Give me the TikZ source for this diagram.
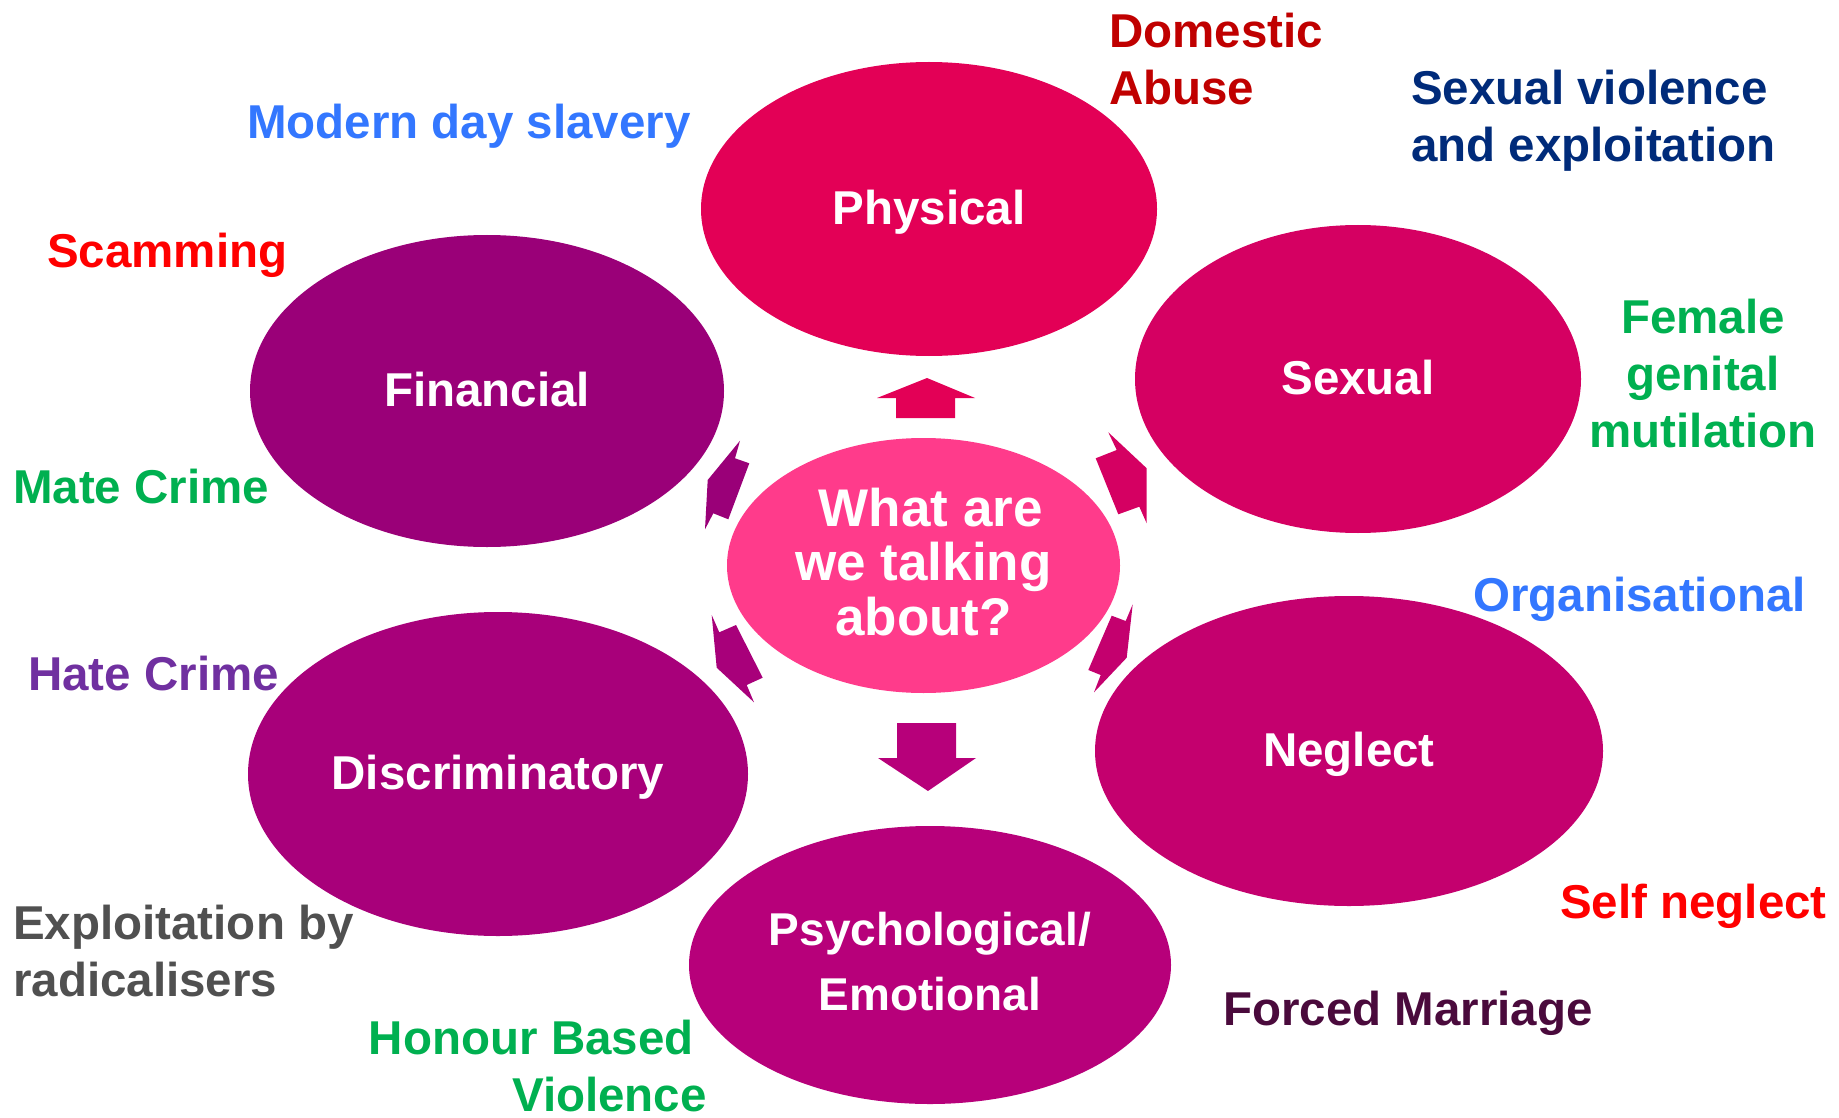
\documentclass[tikz,border=0pt]{standalone}
\usepackage{fontspec}
\setmainfont{Liberation Sans}
\usetikzlibrary{shapes.geometric}
\definecolor{cphys}{HTML}{E30056}
\definecolor{csex}{HTML}{D50062}
\definecolor{cfin}{HTML}{9A0078}
\definecolor{ccen}{HTML}{FF3B8B}
\definecolor{cdis}{HTML}{A8007A}
\definecolor{cneg}{HTML}{C4006E}
\definecolor{cpsy}{HTML}{B7007A}
\definecolor{tdred}{HTML}{C00000}
\definecolor{tnavy}{HTML}{002B7A}
\definecolor{tblue}{HTML}{3377FF}
\definecolor{tred}{HTML}{FF0000}
\definecolor{tgreen}{HTML}{00B050}
\definecolor{tpurple}{HTML}{7030A0}
\definecolor{tgray}{HTML}{505050}
\definecolor{tplum}{HTML}{4A0A3C}
\begin{document}
\begin{tikzpicture}[x=1pt,y=-1pt,
  blob/.style={ellipse, inner sep=0pt, text=white, align=center,
    font=\fontsize{47.5}{57}\selectfont\bfseries},
  lbl/.style={inner sep=0pt, font=\fontsize{47.5}{57}\selectfont\bfseries}]
\useasboundingbox (0,0) rectangle (1839,1118);
% ellipses
\node[blob, fill=cphys, minimum width=456, minimum height=294] (phys) at (929,209) {};
\node[blob, fill=csex, minimum width=446, minimum height=308] (sex) at (1358,379) {};
\node[blob, fill=cfin, minimum width=474, minimum height=312] (fin) at (487,391) {};
\node[blob, fill=cdis, minimum width=500, minimum height=324] (dis) at (498,774) {};
\node[blob, fill=cneg, minimum width=508, minimum height=310] (neg) at (1349,751) {};
\node[blob, fill=cpsy, minimum width=482, minimum height=278] (psy) at (930,965) {};
\node[blob, fill=ccen, minimum width=393, minimum height=255] (cen) at (923.5,565.5) {};
% ellipse texts
\node[lbl, text=white] (physt) at (929,212.5) {Physical};
\node[lbl, text=white] (sext) at (1358,378) {Sexual};
\node[lbl, text=white] (fint) at (487,390) {Financial};
\node[lbl, text=white] (dist) at (498,777.5) {Discriminatory};
\node[lbl, text=white] (negt) at (1349,754.5) {Neglect};
\node[lbl, text=white, align=center, font=\fontsize{46}{64.5}\selectfont\bfseries] (psyt) at (930,961.5) {Psychological/\\Emotional};
\node[lbl, text=white, align=center, font=\fontsize{53}{54.5}\selectfont\bfseries] (cent) at (923.5,562) {\hspace*{0.278em}What are\\we talking\\about?};
% block arrows
\fill[cphys] (927,378) -- (975,398) -- (955,398) -- (955,418) -- (896,418) -- (896,398) -- (877,398) -- cycle;
\fill[cpsy] (928,791) -- (976,758) -- (956,758) -- (956,723) -- (897,723) -- (897,758) -- (878,758) -- cycle;
\fill[cfin] (740,440.7) -- (735,458.3) -- (749.3,463.3) -- (728.3,519.3) -- (713.3,513.3) -- (705,529.3) -- (707.7,480) -- cycle;
\fill[csex] (1108.3,432.3) -- (1116.7,450) -- (1095.7,458.3) -- (1118.3,514.3) -- (1139.3,506.7) -- (1146.7,523.3) -- (1146.7,468.3) -- cycle;
\fill[cdis] (711.7,615) -- (719.3,632.3) -- (736,625) -- (762.7,677.7) -- (746.7,685) -- (754,702.3) -- (716.7,667.7) -- cycle;
\fill[cneg] (1132.7,604.3) -- (1125.7,621) -- (1111.7,615.7) -- (1088.3,670) -- (1100.7,675) -- (1094,692.3) -- (1126.7,657.7) -- cycle;
% labels
\node[lbl, text=tdred, align=left, anchor=west] (dom) at (1109,59) {Domestic\\Abuse};
\node[lbl, text=tnavy, align=left, anchor=west] (sv) at (1411,120.5) {Sexual violence\\and exploitation};
\node[lbl, text=tblue, anchor=west] (mds) at (247,126.5) {Modern day slavery};
\node[lbl, text=tred, anchor=west] (scam) at (47,255.5) {Scamming};
\node[lbl, text=tgreen, anchor=west] (mate) at (13,487) {Mate Crime};
\node[lbl, text=tpurple, anchor=west] (hate) at (28,674) {Hate Crime};
\node[lbl, text=tgray, align=left, anchor=west] (rad) at (13,951) {Exploitation by\\radicalisers};
\node[lbl, text=tgreen, align=right, anchor=east] (hbv) at (707,1066) {Honour Based\hspace*{0.278em}\\Violence};
\node[lbl, text=tplum, anchor=west] (fm) at (1223,1013.5) {Forced Marriage};
\node[lbl, text=tred, anchor=west] (self) at (1560,906.5) {Self neglect};
\node[lbl, text=tblue, anchor=west] (org) at (1473,599.5) {Organisational};
\node[lbl, text=tgreen, align=center] (fgm) at (1703,374) {Female\\genital\\mutilation};
\end{tikzpicture}
\end{document}
